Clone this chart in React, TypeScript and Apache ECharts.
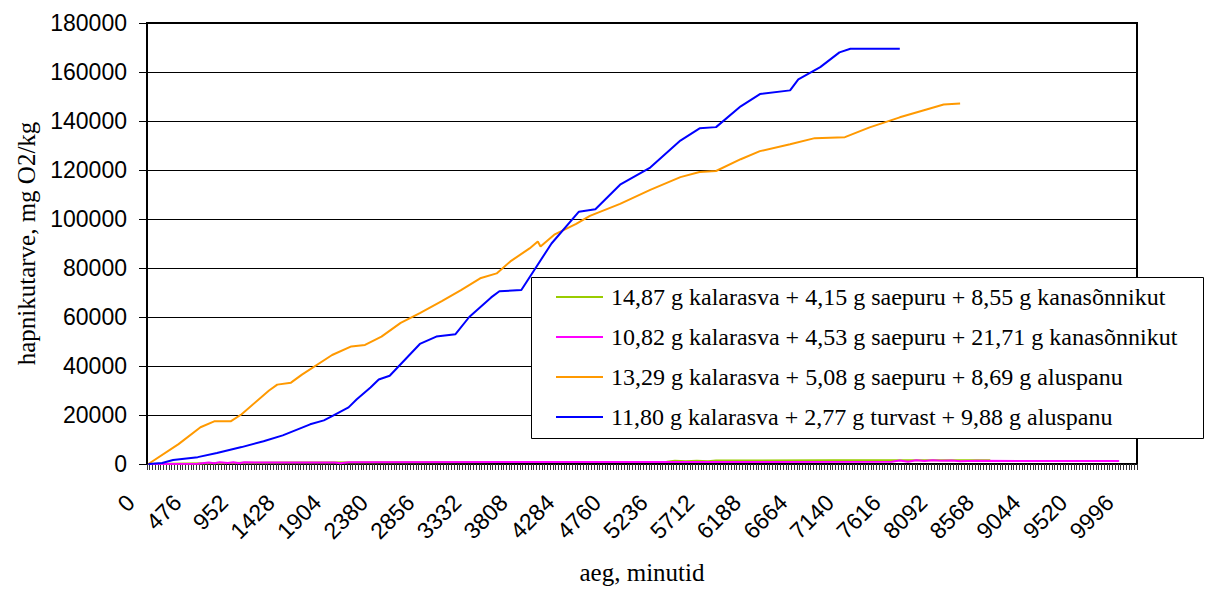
import React, { useEffect, useRef } from "react";
import * as echarts from "echarts";

// Time axis: one category every 28 minutes, labelled every 476 minutes
const MINUTE_STEP = 28;
const CATEGORY_COUNT = 361;
const LABEL_EVERY = 17;
const minuteCategories: string[] = Array.from({ length: CATEGORY_COUNT }, (_, i) => String(i * MINUTE_STEP));

// Oxygen demand axis
const Y_MIN = 0;
const Y_MAX = 180000;
const Y_STEP = 20000;

const seriesNames = [
  "14,87 g kalarasva + 4,15 g saepuru + 8,55 g kanasõnnikut",
  "10,82 g kalarasva + 4,53 g saepuru + 21,71 g kanasõnnikut",
  "13,29 g kalarasva + 5,08 g saepuru + 8,69 g aluspanu",
  "11,80 g kalarasva + 2,77 g turvast + 9,88 g aluspanu",
];
const seriesColors = ["#99cc00", "#ff00ff", "#ff9900", "#0000ff"];

// [minutes, mg O2/kg]
const greenPoints: [number, number][] = [
  [0, 0], [400, 200], [1000, 500], [1400, 600], [2500, 700], [4000, 800],
  [5300, 900], [5380, 1300], [5500, 1100], [5600, 1300], [5700, 1100], [5800, 1400],
  [7000, 1500], [8000, 1500], [8600, 1500],
];
const magentaPoints: [number, number][] = [
  [0, 0], [500, 100], [620, 600], [680, 300], [740, 700], [800, 400], [860, 700],
  [920, 300], [980, 700], [1100, 600], [1900, 600], [1965, 300], [2030, 700],
  [4000, 800], [7600, 900], [7680, 1400], [7760, 900], [7840, 1500], [7920, 1200],
  [8000, 1500], [8100, 1300], [8200, 1400], [8300, 1100], [8450, 1300], [9000, 1200],
  [9905, 1200],
];
const orangePoints: [number, number][] = [
  [0, 0], [305, 8100], [540, 15000], [660, 17400], [845, 17400], [947, 20300],
  [1220, 30000], [1323, 32400], [1456, 33200], [1557, 36500], [1863, 44500],
  [2067, 48000], [2220, 48600], [2372, 52000], [2575, 57600], [2779, 61600],
  [2983, 66500], [3186, 71000], [3390, 75800], [3543, 77800], [3695, 82700],
  [3899, 88000], [3970, 90800], [4011, 88800], [4154, 93600], [4357, 98000],
  [4510, 101300], [4815, 106200], [5121, 111900], [5426, 117100], [5630, 119200],
  [5782, 119600], [6037, 124400], [6240, 127700], [6546, 130500], [6800, 133000],
  [7106, 133400], [7360, 137400], [7666, 141500], [7971, 145100], [8124, 146700],
  [8276, 147100],
];
const bluePoints: [number, number][] = [
  [0, 0], [132, 400], [265, 1600], [509, 2800], [713, 4500], [947, 6900],
  [1181, 9300], [1384, 11700], [1659, 16200], [1792, 17800], [1863, 19500],
  [2036, 23100], [2138, 26400], [2270, 31200], [2341, 34500], [2453, 36000],
  [2779, 49000], [2932, 52000], [3135, 53000], [3288, 60000], [3492, 68000],
  [3594, 70500], [3797, 71000], [4103, 90000], [4408, 103000], [4561, 104000],
  [4815, 114000], [5121, 121000], [5426, 132000], [5630, 137000], [5782, 137500],
  [6037, 146000], [6240, 151000], [6546, 152500], [6648, 157000], [6851, 162000],
  [7055, 168000], [7157, 169500], [7666, 169500],
];
const allPoints = [greenPoints, magentaPoints, orangePoints, bluePoints];

const toCategoryData = (pts: [number, number][]) =>
  pts.map(([m, v]) => [Math.round(m / MINUTE_STEP), v]);

export default function App() {
  const ref = useRef<HTMLDivElement>(null);

  useEffect(() => {
    if (!ref.current) return;
    const chart = echarts.init(ref.current, undefined, { renderer: "svg" });
    chart.setOption({
      animation: false,
      backgroundColor: "#ffffff",
      grid: {
        left: 147,
        right: 68,
        top: 23,
        bottom: 123,
        show: true,
        borderColor: "#000",
        borderWidth: 2,
        containLabel: false,
      },
      xAxis: {
        type: "category",
        data: minuteCategories,
        boundaryGap: true,
        axisLine: { lineStyle: { color: "#000", width: 1 } },
        axisTick: { show: true, interval: 0, length: 6, lineStyle: { color: "#333", width: 1 } },
        axisLabel: {
          interval: LABEL_EVERY - 1,
          rotate: 45,
          fontFamily: "Liberation Sans",
          fontSize: 23,
          color: "#000",
          margin: 17,
          padding: [0, 25, 0, 0],
        },
        splitLine: { show: false },
        name: "aeg, minutid",
        nameLocation: "middle",
        nameGap: 96,
        nameTextStyle: { fontFamily: "Liberation Serif", fontSize: 25, color: "#000" },
      },
      yAxis: {
        type: "value",
        min: Y_MIN,
        max: Y_MAX,
        interval: Y_STEP,
        axisLine: { show: true, lineStyle: { color: "#000", width: 2 } },
        axisTick: { show: true, length: 8, lineStyle: { color: "#000" } },
        axisLabel: {
          fontFamily: "Liberation Sans",
          fontSize: 23,
          color: "#000",
          margin: 20,
          formatter: (v: number) => String(v),
        },
        splitLine: { show: true, lineStyle: { color: "#000", width: 1 } },
        name: "hapnikutarve, mg O2/kg",
        nameLocation: "middle",
        nameGap: 108,
        nameRotate: 90,
        nameTextStyle: { fontFamily: "Liberation Serif", fontSize: 25, color: "#000" },
      },
      legend: {
        orient: "vertical",
        left: 531,
        top: 277,
        padding: [6, 10, 6, 25],
        itemGap: 12,
        itemWidth: 47,
        itemHeight: 2,
        icon: "rect",
        selectedMode: false,
        z: 20,
        data: seriesNames,
        textStyle: {
          fontFamily: "Liberation Serif",
          fontSize: 24,
          color: "#000",
          lineHeight: 28,
          padding: [0, 0, 0, 3],
        },
      },
      graphic: [
        {
          type: "rect",
          z: 10,
          shape: { x: 531.5, y: 277.5, width: 672, height: 161 },
          style: { fill: "#ffffff", stroke: "#000", lineWidth: 1 },
        },
      ],
      series: seriesNames.map((name, i) => ({
        name,
        type: "line",
        data: toCategoryData(allPoints[i]),
        showSymbol: false,
        symbol: "none",
        color: seriesColors[i],
        lineStyle: { color: seriesColors[i], width: 2 },
      })),
    });
    return () => chart.dispose();
  }, []);

  return (
    <div
      ref={ref}
      style={{ position: "fixed", left: 0, top: 0, width: 1205, height: 590, background: "#fff" }}
    />
  );
}
